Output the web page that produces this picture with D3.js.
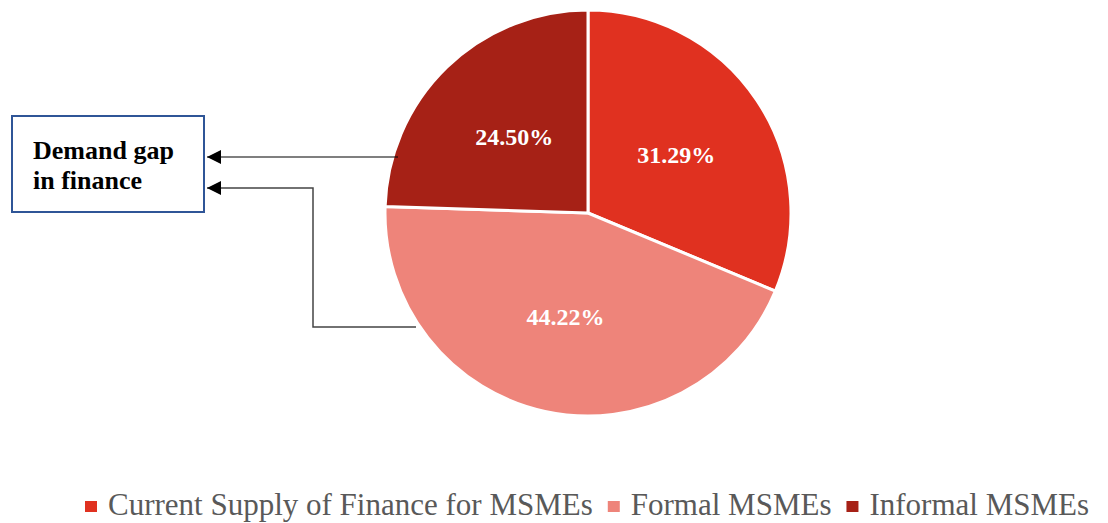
<!DOCTYPE html>
<html>
<head>
<meta charset="utf-8">
<script src="https://cdn.jsdelivr.net/npm/d3@7"></script>
<style>
  body { margin: 0; background: #fff; }
  svg { display: block; }
</style>
</head>
<body>
<div id="chart"></div>
<script>
var categories = ["Current Supply of Finance for MSMEs", "Formal MSMEs", "Informal MSMEs"];
var values = [31.29, 44.22, 24.50];
var colors = ["#E03120", "#EE847A", "#A62116"];
var boxLines = ["Demand gap", "in finance"];

var width = 1108, height = 523,
    cx = 588, cy = 213, radius = 203;
var serif = "'Liberation Serif', 'DejaVu Serif', serif";

var svg = d3.select("#chart").append("svg")
    .attr("width", width)
    .attr("height", height);

svg.append("defs").append("marker")
    .attr("id", "arrow")
    .attr("viewBox", "0 0 10 10")
    .attr("refX", 10).attr("refY", 5)
    .attr("markerWidth", 16).attr("markerHeight", 14)
    .attr("markerUnits", "userSpaceOnUse")
    .attr("orient", "auto")
  .append("path")
    .attr("d", "M0,0 L10,5 L0,10 Z")
    .attr("fill", "#000");

var pie = d3.pie().sort(null).value(function(d) { return d; });
var arcs = pie(values);
var arc = d3.arc().innerRadius(0).outerRadius(radius);
var labelArc = d3.arc().innerRadius(106 * 2 - radius).outerRadius(radius); // centroid at r=106

var g = svg.append("g").attr("transform", "translate(" + cx + "," + cy + ")");

g.selectAll("path")
  .data(arcs)
  .enter()
  .append("path")
    .attr("d", arc)
    .attr("fill", function(d, i) { return colors[i]; })
    .attr("stroke", "#fff")
    .attr("stroke-width", 3);

g.selectAll("text")
  .data(arcs)
  .enter()
  .append("text")
    .attr("transform", function(d) { return "translate(" + labelArc.centroid(d) + ")"; })
    .attr("text-anchor", "middle")
    .attr("dy", "0.35em")
    .style("font-family", serif)
    .style("font-weight", "bold")
    .style("font-size", "24px")
    .attr("fill", "#fff")
    .text(function(d) { return d.data.toFixed(2) + "%"; });

// callout box
svg.append("rect")
    .attr("x", 12).attr("y", 116)
    .attr("width", 192).attr("height", 96)
    .attr("fill", "#fff")
    .attr("stroke", "#2F5597")
    .attr("stroke-width", 2);

svg.append("g").selectAll("text")
  .data(boxLines)
  .enter()
  .append("text")
    .attr("x", 33)
    .attr("y", function(d, i) { return 159 + i * 30; })
    .style("font-family", serif)
    .style("font-weight", "bold")
    .style("font-size", "26px")
    .attr("fill", "#000")
    .text(function(d) { return d; });

// arrows from slices to box
svg.append("path")
    .attr("d", "M398,157 L207,157")
    .attr("fill", "none")
    .attr("stroke", "#000")
    .attr("stroke-width", 1.2)
    .attr("marker-end", "url(#arrow)");

svg.append("path")
    .attr("d", "M416,327 L313,327 L313,188 L207,188")
    .attr("fill", "none")
    .attr("stroke", "#444")
    .attr("stroke-width", 1.5)
    .attr("marker-end", "url(#arrow)");

// legend
var legend = svg.append("g");
var lx = 85;
categories.forEach(function(c, i) {
  legend.append("rect")
      .attr("x", lx).attr("y", 501)
      .attr("width", 12).attr("height", 11)
      .attr("fill", colors[i]);
  var t = legend.append("text")
      .attr("x", lx + 23).attr("y", 515)
      .style("font-family", serif)
      .style("font-size", "31px")
      .attr("fill", "#595959")
      .text(c);
  lx += 23 + t.node().getComputedTextLength() + 15;
});
</script>
</body>
</html>
